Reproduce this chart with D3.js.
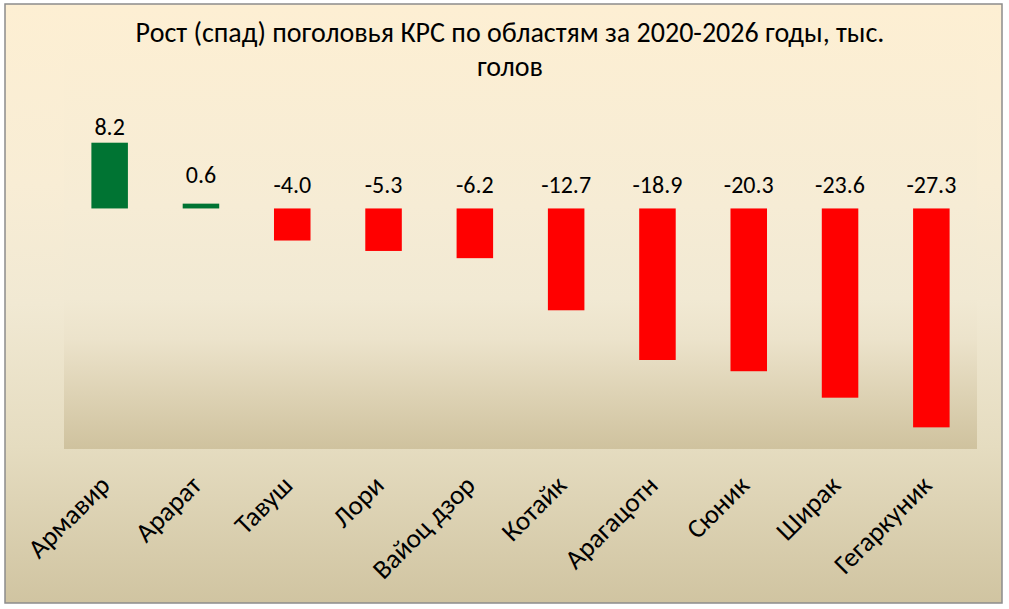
<!DOCTYPE html>
<html>
<head>
<meta charset="utf-8">
<script src="https://cdn.jsdelivr.net/npm/d3@7"></script>
<style>
  html, body { margin: 0; padding: 0; background: #fff; }
  svg text { font-family: Calibri, Carlito, "Open Sans", sans-serif; fill: #000; }
</style>
</head>
<body>
<div id="chart"></div>
<script>
// Regions (Armenian marzes) and change in cattle head, thousand
var regions = ["Армавир", "Арарат", "Тавуш", "Лори", "Вайоц дзор", "Котайк", "Арагацотн", "Сюник", "Ширак", "Гегаркуник"];
var change  = [8.2, 0.6, -4.0, -5.3, -6.2, -12.7, -18.9, -20.3, -23.6, -27.3];
var yDomain = [-30, 25];
var titleLines = ["Рост (спад) поголовья КРС по областям за 2020-2026 годы, тыс.", "голов"];

(function() {
  var W = 1009, H = 609,
      frame = { x: 5, y: 4, w: 997, h: 599 },
      plot  = { left: 64, right: 977, top: 8, bottom: 449 };

  var svg = d3.select("#chart").append("svg")
      .attr("width", W)
      .attr("height", H);

  var defs = svg.append("defs");

  // outer chart background
  var bg = defs.append("linearGradient").attr("id", "bgGrad")
      .attr("x1", 0).attr("y1", 0).attr("x2", 0).attr("y2", 1);
  [[0, "#fdefd3"], [0.3, "#f8edd5"], [0.5, "#f1e9d3"], [0.74, "#e5dcc0"], [1, "#d0c4a1"]]
    .forEach(function(s) { bg.append("stop").attr("offset", s[0]).attr("stop-color", s[1]); });

  // plot area background
  var pg = defs.append("linearGradient").attr("id", "plotGrad")
      .attr("x1", 0).attr("y1", 0).attr("x2", 0).attr("y2", 1);
  [[0, "#fdefd3"], [0.45, "#f6ecd5"], [0.66, "#f1e9d3"], [0.75, "#ece3cb"], [1, "#cfc29e"]]
    .forEach(function(s) { pg.append("stop").attr("offset", s[0]).attr("stop-color", s[1]); });

  svg.append("rect")
    .attr("x", frame.x).attr("y", frame.y)
    .attr("width", frame.w).attr("height", frame.h)
    .attr("fill", "url(#bgGrad)")
    .attr("stroke", "#8c8c8c")
    .attr("stroke-width", 1.5);

  svg.append("rect")
    .attr("x", plot.left).attr("y", plot.top)
    .attr("width", plot.right - plot.left).attr("height", plot.bottom - plot.top)
    .attr("fill", "url(#plotGrad)");

  var x = d3.scaleBand()
      .domain(regions)
      .range([plot.left, plot.right])
      .paddingInner(0.6)
      .paddingOuter(0.3);

  var y = d3.scaleLinear()
      .domain(yDomain)
      .range([plot.bottom, plot.top]);

  var data = regions.map(function(r, i) { return { region: r, value: change[i] }; });

  // bars
  svg.append("g").selectAll("rect")
      .data(data)
    .enter().append("rect")
      .attr("x", function(d) { return x(d.region); })
      .attr("y", function(d) { return y(Math.max(0, d.value)); })
      .attr("width", x.bandwidth())
      .attr("height", function(d) { return Math.abs(y(d.value) - y(0)); })
      .attr("fill", function(d) { return d.value >= 0 ? "#007433" : "#ff0000"; });

  // value labels: above bar for positives (kept clear of the axis), above the zero line for negatives
  svg.append("g").selectAll("text")
      .data(data)
    .enter().append("text")
      .attr("x", function(d) { return x(d.region) + x.bandwidth() / 2; })
      .attr("y", function(d) {
        return d.value >= 0 ? Math.min(y(d.value) - 8, y(0) - 25) : y(0) - 15;
      })
      .attr("text-anchor", "middle")
      .style("font-size", "24px")
      .text(function(d) { return d.value.toFixed(1); });

  // category axis labels, rotated
  var axis = d3.axisBottom(x).tickSize(0).tickPadding(0);
  var ax = svg.append("g")
      .attr("transform", "translate(0," + plot.bottom + ")")
      .call(axis);
  ax.select(".domain").remove();
  ax.selectAll(".tick text")
      .attr("text-anchor", "end")
      .attr("dy", 0)
      .attr("transform", "translate(2,38) rotate(-45)")
      .style("font-size", "27px")
      .style("font-family", 'Calibri, Carlito, "Open Sans", sans-serif');

  // title
  svg.append("g").selectAll("text")
      .data(titleLines)
    .enter().append("text")
      .attr("x", 510)
      .attr("y", function(d, i) { return 42 + i * 34; })
      .attr("text-anchor", "middle")
      .style("font-size", "28px")
      .text(function(d) { return d; });
})();
</script>
</body>
</html>
